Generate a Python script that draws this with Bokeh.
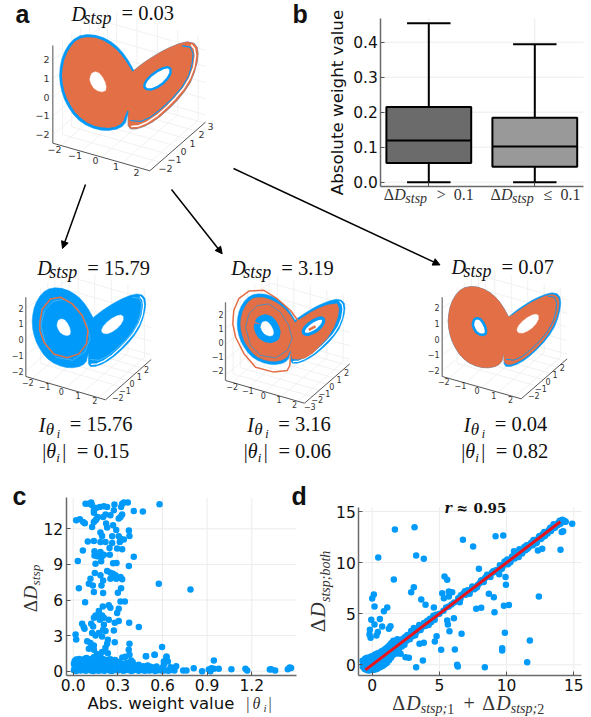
from bokeh.plotting import figure
from bokeh.models import Range1d, LinearAxis, FixedTicker, Arrow, NormalHead
from bokeh.core.properties import value
from bokeh.embed import file_html
from bokeh.resources import INLINE
import math

# ---------- panel b values ----------
b_cats = [1, 2]
b_low = [0.0, 0.0]
b_q1 = [0.055, 0.044]
b_med = [0.119, 0.102]
b_q3 = [0.215, 0.184]
b_high = [0.454, 0.394]
b_colors = ["#6b6b6b", "#999999"]
b_yticks = [0.0, 0.1, 0.2, 0.3, 0.4]

# ---------- panel c values ----------
c_xticks = [0.0, 0.3, 0.6, 0.9, 1.2]
c_yticks = [0, 3, 6, 9, 12]
c_upper_x = [.083,.105,.121,.127,.139,.154,.179,.206,.228,.277,.329,.340,.367,.322,.580,.273,.407,.468,.139,.165,.156,.150,.201,.217,.250,.329,.318,.306,.020,.045,.067,.078,.139,.127,.221,.228,.268,.289,.374,.183,.194,.378,.262,.306,.318,.340,.313,.098,.139,.183,.217,.262,.244,.295,.329,.065,.143,.183,.143,.161,.179,.206,.194,.246,.407,.031,.188,.150,.268,.291,.374,.228,.250,.268,.284,.145,.183,.318,.289,.250,.116,.201,.329,.105,.132,.190,.575,.038,.322,.788,.139,.201,.300]
c_upper_y = [14.12,14.12,14.21,13.98,13.56,13.75,13.84,13.90,13.84,14.04,14.12,14.21,14.21,13.84,14.07,13.56,13.50,13.45,13.36,13.0,12.8,12.72,13.0,13.2,13.14,13.2,13.0,12.86,12.72,12.8,12.58,12.46,12.58,12.15,12.44,12.1,12.3,11.9,11.85,11.68,11.4,11.4,11.37,11.37,11.17,11.09,10.89,10.94,10.97,10.89,10.89,10.80,10.38,10.33,10.27,10.18,10.10,10.04,9.76,9.68,9.76,9.82,9.68,9.82,9.65,9.29,9.26,9.06,9.09,9.12,8.86,8.44,8.30,8.22,8.08,8.27,8.08,7.94,7.79,7.79,7.79,7.65,7.74,7.37,7.23,7.23,7.37,7.0,7.0,6.89,6.67,6.58,6.61]
c_mid_x = [.080,.199,.239,.250,.318,.347,.306,.295,.172,.150,.161,.139,.194,.206,.239,.179,.306,.279,.376,.441,.060,.071,.076,.121,.134,.206,.201,.217,.273,.016,.020,.127,.150,.172,.194,.233,.279,.378,.094,.116,.139,.228,.217,.105,.139,.194,.373,.378,.233,.597,.548,.488,.627,.609,.636]
c_mid_y = [5.82,5.46,5.55,5.35,5.88,5.88,5.26,4.90,5.07,4.70,4.56,4.50,4.70,4.50,4.34,4.34,4.22,4.08,4.08,3.72,4.0,3.72,3.58,4.0,3.77,3.91,3.49,3.38,3.44,3.1,2.68,3.21,3.01,3.21,2.93,2.65,2.45,2.31,2.53,2.37,2.17,2.31,1.97,1.89,1.80,1.61,1.80,1.38,1.52,2.03,1.38,1.27,1.24,.82,.82]
c_tail_x = [.945,.81,.866,.739,.761,.692,.654,.911,.929,.945,.978,.922,1.063,1.157,1.169,1.321,1.33,1.357,1.442,1.455,1.464,.627,.609,.546,.49]
c_tail_y = [.90,.25,0,.06,.06,.42,.34,.14,.25,.2,.2,0,.17,.2,.06,.14,.17,.06,.17,.31,.28,1.18,.56,1.38,1.27]
c_band_x = [.005,.02,.035,.05,.07,.085,.10,.12,.135,.155,.17,.19,.21,.225,.245,.26,.28,.30,.315,.335,.35,.37,.39,.405,.425,.44,.46,.48,.50,.515,.535,.55,.57,.585,.60,.62,.64,.66,.68,
            .01,.03,.045,.065,.08,.10,.115,.13,.15,.17,.185,.205,.22,.24,.255,.275,.29,.31,.33,.345,.365,.38,.40,.42,.435,.455,.475,.49,.51,.53,.545,
            .005,.025,.04,.06,.075,.09,.11,.125,.145,.16,.18,.2,.215,.235,.25,.27,.285,.305,.325,.34,.36,.375,.395,.415,
            .01,.03,.05,.065,.085,.105,.12,.14,.155,.175,.195,.21,.23,.25,.27,.29,
            .08,.09,.14,.19,.25,.33,.35,.28,.39,.40,.16,.18,
            .012,.028,.043,.058,.072,.088,.103,.118,.133,.148,.163,.178,.193,.208,.223,.238,.253,.268,.283,.298,.313,.328,.343,.358,.373,.388,.403,.418,.433,.448,.463,.478,.493,.508,.523,.538,.553,.568,.583,
            .018,.034,.052,.068,.083,.097,.113,.128,.142,.158,.173,.188,.203,.218,.232,.248,.263,.278,.293,.308,.323,.338,.353,.368,.383,.398,
            .015,.037,.055,.078,.095,.108,.122,.138,.152,.168,.183,.198,.212,.228,.243,.258,.273,.288,.302,.318,
            .02,.04,.062,.082,.098,.112,.13,.148,.165,.18,.2,.22,.24,.26,.28,.31,.36,.38,.44,.47,.5,.52,.56,.6]
c_band_y = [.08,.02,.12,.05,.1,.03,.14,.06,.02,.11,.04,.09,.03,.13,.06,.01,.1,.05,.12,.03,.08,.11,.02,.07,.13,.04,.1,.03,.09,.05,.12,.02,.07,.1,.04,.08,.03,.1,.05,
            .36,.3,.41,.34,.28,.39,.33,.42,.3,.36,.27,.4,.32,.38,.29,.35,.41,.28,.37,.32,.26,.4,.33,.29,.37,.3,.25,.34,.28,.31,.26,
            .62,.57,.66,.6,.55,.68,.58,.63,.7,.56,.65,.6,.54,.67,.58,.62,.55,.64,.52,.58,.48,.6,.5,.47,
            .86,.92,.84,.95,.88,.82,.97,.9,.85,.93,.8,.96,.87,.78,.84,.74,
            1.05,1.12,1.2,1.1,1.0,1.15,1.22,.95,.9,.75,1.45,1.3,
            .2,.17,.24,.15,.22,.18,.26,.14,.21,.19,.25,.16,.23,.2,.15,.24,.18,.22,.13,.21,.17,.25,.14,.2,.16,.23,.12,.19,.15,.21,.13,.18,.2,.14,.17,.12,.19,.15,.1,
            .5,.47,.53,.46,.52,.49,.55,.44,.51,.48,.54,.45,.5,.47,.53,.44,.49,.46,.52,.43,.48,.45,.41,.47,.44,.42,
            .76,.72,.78,.74,.8,.71,.77,.73,.79,.75,.7,.78,.72,.76,.68,.74,.66,.7,.64,.62,
            .98,1.02,.96,1.04,1.0,.94,1.06,.98,1.02,.92,1.0,.9,.96,.88,.92,.8,.72,.6,.55,.42,.48,.38,.4,.3]

# ---------- panel d values ----------
d_ticks = [0, 5, 10, 15]
d_off_x = [1.69,3.15,3.27,3.84,.45,1.61,3.1,2.9,3.65,3.97,.12,0,.17,.87,1.12,-.07,.57,.17,-.17,-.2,-.12,.42,.32,.74,1.36,1.24,4.59,5.38,5.58,5.21,5.33,5.7,5.95,5.7,6.52,6.57,6.08,5.58,5.63,5.75,6.65,4.79,4.66,3.84,3.52,3.77,5.13,6.15,3.27,6.32,6.37,8.38,11.53,11.73,9.67,9.67,9.87,9.1,7.74,8.11,9.8,10.17,12.4,9.05,8.68,9.92,9.95,9.45,7.94,6.75,7.51,9.18,9.75,14.01,14.21,14.88,12.33,12.65,2.11,2.73,2.48,1.98,14.1]
d_off_y = [13.24,13.47,10.69,10.37,10.5,8.35,7.6,7.1,6.39,5.87,6.88,6.49,5.71,5.25,5.61,4.4,4.47,3.95,3.42,2.97,2.64,3.2,2.87,3.75,3.78,3.52,5.61,8.64,8.31,7.01,6.52,7.17,7.1,6.68,6.13,6.46,4.56,4.34,3.95,3.29,3.03,2.8,2.28,2.15,2.05,.42,1.47,1.5,-.23,0,-.16,-.23,.26,2.38,1.63,1.4,3.13,5.15,5.48,5.58,5.77,5.84,6.68,6.62,6.95,8.58,7.83,8.87,9.39,12.23,11.57,12.59,12.65,11.25,13.07,13.79,11.18,11.35,1.08,.68,.75,1.4,13.0]
d_blob_x = [-.7,-.68,-.72,-.56,-.54,-.55,-.53,-.4,-.42,-.38,-.41,-.39,-.25,-.27,-.24,-.26,-.23,-.1,-.12,-.09,-.11,-.08,.05,.03,.06,.04,.07,.2,.18,.22,.19,.21,.35,.33,.36,.34,.37,.5,.48,.52,.49,.51,.65,.63,.66,.64,.67,.8,.78,.82,.79,.81,.95,.93,.96,.94,.97,1.1,1.08,1.12,1.09,1.11,1.25,1.23,1.26,1.24,1.27,1.4,1.38,1.42,1.39,1.41,1.55,1.53,1.56,1.54,1.57,1.7,1.68,1.72,1.69,1.85,1.83,1.86,1.84,1.87,2.0,1.98,2.02,2.2,2.18,2.22,2.4,2.38,2.42]
d_blob_y = [-.2,.1,.4,-.4,-.05,.25,.6,-.5,-.2,.1,.4,.7,-.55,-.25,.05,.35,.7,-.5,-.2,.1,.45,.8,-.5,-.15,.2,.5,.85,-.45,-.1,.25,.6,1.0,-.4,-.05,.3,.7,1.1,-.3,.05,.4,.8,1.15,-.2,.15,.5,.9,1.3,-.1,.3,.7,1.1,1.4,.05,.45,.85,1.25,1.55,.2,.6,1.0,1.4,1.7,.45,.85,1.25,1.65,1.9,.7,1.05,1.45,1.85,2.1,.95,1.3,1.7,2.1,2.35,1.2,1.55,1.9,2.3,1.1,1.5,1.85,2.15,2.5,1.65,2.0,2.4,1.8,2.15,2.5,1.95,2.35,2.7]
d_band_x = [2.6,2.8,2.9,3.0,3.1,3.3,3.5,3.6,3.7,3.85,3.95,4.1,4.2,4.3,4.4,4.55,4.65,4.75,5.0,5.3,5.5,5.7,5.9,6.1,6.4,6.6,6.8,6.9,7.0,7.15,7.3,7.4,7.55,7.7,7.85,8.0,8.2,8.4,8.55,8.7,8.9,9.05,9.2,9.4,9.55,9.7,9.85,10.0,10.15,10.3,10.45,10.6,10.55,10.7,10.85,10.95,11.1,11.25,11.4,11.5,11.65,11.8,11.95,12.1,12.25,12.4,12.55,12.7,12.85,13.0,13.15,13.3,13.45,13.6,13.7,13.85,14.0,14.1,14.25,14.4,14.0,13.5,11.2,10.1,10.9,12.0,
            2.55,2.7,3.2,3.4,6.95,7.1,7.25,7.45,7.6,7.8,8.1,8.3,8.5,8.8,9.0,9.3,9.5,9.65,9.9,10.05,10.25,10.4,10.75,11.0,11.15,11.35,11.55,11.75,11.9,12.05,12.2,12.45,12.65,12.8,13.05,13.25,13.4,13.55,13.8,13.95,14.15,14.3]
d_band_y = [2.9,2.5,3.3,2.8,3.6,3.2,3.9,3.4,3.7,4.1,3.8,4.3,3.9,4.5,4.2,4.8,4.4,4.9,5.0,5.3,5.6,5.7,5.9,6.1,6.5,6.8,7.0,7.2,7.1,7.25,7.3,7.45,7.5,7.55,7.8,8.0,8.3,8.5,8.8,8.75,9.0,9.05,9.25,9.3,9.7,9.6,10.1,10.0,10.2,10.1,10.5,10.4,11.1,10.9,10.7,11.3,11.0,11.4,11.2,11.7,11.5,11.9,11.7,12.2,12.0,12.5,12.3,12.8,12.6,13.0,13.2,13.1,13.5,13.4,13.7,13.9,13.8,14.1,14.0,14.0,14.05,13.75,11.1,9.85,10.55,12.2,
            2.35,2.95,2.9,3.55,6.85,7.3,6.95,7.65,7.4,7.6,8.25,8.1,8.65,8.6,9.15,9.1,9.75,9.4,9.85,10.3,10.0,10.6,10.55,11.15,10.9,11.55,11.35,11.75,12.0,12.15,11.9,12.6,12.45,13.0,12.85,13.4,13.3,13.65,13.65,14.1,14.2,14.1]
d_fit_x = [-0.5, 14.0]
d_fit_y = [-0.5, 14.0]

# ---------- attractor panels: labels ----------
D_values = ["0.03", "15.79", "3.19", "0.07"]
I_values = ["15.76", "3.16", "0.04"]
theta_values = ["0.15", "0.06", "0.82"]

# ---------- attractor outline ----------
wing_x = [280,272,262,248,232,212,190,165,140,118,100,85,73,64,59,57,59,64,72,84,98,115,135,158,182,205,228,245,255,259,263,263,263,270,288,310,335,360,385,410,432,450,462,470,473,470,460,440,415,390,365,340,315,295]
wing_y = [150,135,118,98,80,64,52,44,42,46,56,72,92,115,140,165,190,213,237,260,281,299,313,323,329,330,326,318,307,292,278,300,315,325,325,318,305,287,265,240,213,185,155,125,100,80,68,64,70,80,92,107,123,138]
inset_x = [278,268,258,244,228,209,188,164,140,120,103,90,78,69,64,62,64,69,77,89,102,119,138,160,183,205,226,242,251,255,263,263,263,270,288,310,335,360,385,410,432,450,462,470,473,470,460,440,415,390,365,340,315,295]
inset_y = [152,136,120,101,84,69,57,49,47,51,60,75,95,117,141,165,189,212,235,257,277,294,308,318,323,325,321,313,303,290,272,300,315,325,325,318,305,287,265,240,213,185,155,125,100,80,68,64,70,80,92,107,123,138]
third_x = [280,262,240,212,185,160,137,118,103,90,78,72,70,72,78,86,98,114,134,158,182,205,226,240,250,256,263,269,295,320,350,378,405,430,445,449,442,420,398,365,340,315,295]
third_y = [160,130,103,80,66,58,57,61,72,90,115,140,165,190,215,237,258,280,298,310,316,317,313,306,298,285,272,307,309,303,282,252,222,178,135,103,83,85,90,104,118,135,148]
fourth_x = wing_x[:31] + [263,266,275,290,310,335,360,385,408,428,445,457,464,467,464,456,440,415,390,365,340,315,295]
fourth_y = wing_y[:31] + [300,312,318,318,311,298,280,258,234,208,180,152,125,100,84,74,70,76,86,98,113,129,143]
left_eye_x = [150,154,165,176,186,194,197,195,185,172,160,152,148]
left_eye_y = [167,158,154,158,170,186,200,210,214,211,203,190,178]
right_eye_x = [312,318,332,350,368,382,390,390,382,368,350,333,318,312]
right_eye_y = [192,180,165,152,143,140,145,158,173,188,200,207,206,200]
gap_x = [272,295,320,350,380,405,428,448,460,465,462,452]
gap_y = [318,316,305,285,258,232,205,172,140,105,85,73]
strand_x = [270,300,330,362,395,425,445,455,458,450,425]
strand_y = [300,303,290,265,235,200,165,130,100,80,76]
loop2_x = [85,94,124,161,204,240,261,256,228,185,136,100,85,85]
loop2_y = [166,118,82,76,100,142,196,244,280,294,280,238,196,166]
loop3_x = [263,260,250,198,128,83,51,40,44,63,102,160,211,263,295]
loop3_y = [286,334,354,361,341,286,219,164,110,62,31,28,62,110,157]
ring_x = [89,102,134,179,224,256,269,250,205,147,108,89]
ring_y = [178,123,90,83,117,171,225,273,303,293,252,178]
dash3_x = [333,359]
dash3_y = [189,175]

BLUE = "#009AFA"
ORANGE = "#E26F46"
SERIF = "Liberation Serif"
W, H = 591, 717
p = figure(width=W, height=H, x_range=Range1d(0, W), y_range=Range1d(H, 0),
           output_backend="svg", toolbar_location=None, min_border=0,
           outline_line_color=None, x_axis_location=None, y_axis_location=None,
           background_fill_color="white", border_fill_color="white")
p.grid.visible = False


def add_scale(xname, x0v, x0p, x1v, x1p, yname, y0v, y0p, y1v, y1p):
    """Extra ranges: the given values land at the given page pixels."""
    kx = (x1v - x0v) / (x1p - x0p)
    ky = (y1v - y0v) / (y1p - y0p)
    p.extra_x_ranges[xname] = Range1d(x0v + (0 - x0p) * kx, x0v + (W - x0p) * kx)
    p.extra_y_ranges[yname] = Range1d(y0v + (H - y0p) * ky, y0v + (0 - y0p) * ky)
    return (lambda v: x0v + (v - x0p) * kx), (lambda v: y0v + (v - y0p) * ky)


def T(x, y, s, size, font=SERIF, style="normal", angle=0, align="left", base="alphabetic", color="#111111"):
    if base == "alphabetic":
        if angle == 0:
            y -= 0.38 * size
        else:
            x -= 0.38 * size
    p.text(x=[x], y=[y], text=[s], text_font=value(font), text_font_size=f"{size}px",
           text_font_style=style, angle=angle, text_align=align, text_baseline=base, text_color=color)


def axes_2d(xn, yn, fx, fy, left, right, top, bottom, xticks, yticks):
    xl, xr = fx(left), fx(right)
    yb, yt = fy(bottom), fy(top)
    p.segment(x0=xticks, x1=xticks, y0=[yb] * len(xticks), y1=[yt] * len(xticks), x_range_name=xn, y_range_name=yn,
              line_color="#ececec", line_width=1)
    p.segment(x0=[xl] * len(yticks), x1=[xr] * len(yticks), y0=yticks, y1=yticks, x_range_name=xn, y_range_name=yn,
              line_color="#ececec", line_width=1)
    ay = LinearAxis(x_range_name=xn, y_range_name=yn, fixed_location=xl, bounds=(yb, yt), ticker=FixedTicker(ticks=yticks))
    ax = LinearAxis(x_range_name=xn, y_range_name=yn, fixed_location=yb, bounds=(xl, xr), ticker=FixedTicker(ticks=xticks))
    for a in (ax, ay):
        a.axis_line_color = "#6a6a6a"
        a.axis_line_width = 1.5
        a.major_tick_line_color = "#555555"
        a.major_tick_in = 4
        a.major_tick_out = 0
        a.minor_tick_line_color = None
        a.major_label_text_font = "DejaVu Sans"
        a.major_label_text_font_size = "15.5px"
        a.major_label_text_color = "#111111"
        a.major_label_standoff = 3
    return ax, ay


def frame3d(O, X, Y, top, xr, yr, zr, xt, yt, zt, xl0, xl1, yl0, yl1, zl0, zl1, fs, zx):
    def pt(f, g, h):
        sc = 1 - 0.14 * g
        return (O[0] + f * (X[0] - O[0]) + g * (Y[0] - X[0]),
                O[1] + f * (X[1] - O[1]) + g * (Y[1] - X[1]) + h * sc * (top[1] - O[1]))
    frac = lambda t, r: (t - r[0]) / (r[1] - r[0])
    xs0, ys0, xs1, ys1 = [], [], [], []
    def seg(a, b):
        xs0.append(a[0]); ys0.append(a[1]); xs1.append(b[0]); ys1.append(b[1])
    for t in xt:
        f = frac(t, xr)
        seg(pt(f, 0, 0), pt(f, 1, 0))
        seg(pt(f, 1, 0), pt(f, 1, 1))
    for t in yt:
        g = frac(t, yr)
        seg(pt(0, g, 0), pt(1, g, 0))
        seg(pt(0, g, 0), pt(0, g, 1))
    for t in zt:
        h = frac(t, zr)
        seg(pt(0, 0, h), pt(0, 1, h))
        seg(pt(0, 1, h), pt(1, 1, h))
    p.segment(x0=xs0, y0=ys0, x1=xs1, y1=ys1, line_color="#eeeeee", line_width=0.8)
    p.line(x=[O[0], O[0]], y=[O[1], top[1]], line_color="#777777", line_width=1.3)
    p.line(x=[O[0], X[0], Y[0]], y=[O[1], X[1], Y[1]], line_color="#555555", line_width=1)
    fmt = lambda t: str(t).replace("-", "\u2212")
    for i, t in enumerate(xt):
        q = i / (len(xt) - 1)
        T(xl0[0] + q * (xl1[0] - xl0[0]), xl0[1] + q * (xl1[1] - xl0[1]), fmt(t), fs, "DejaVu Sans", align="center", base="middle", color="#333333")
    for i, t in enumerate(yt):
        q = i / (len(yt) - 1)
        T(yl0[0] + q * (yl1[0] - yl0[0]), yl0[1] + q * (yl1[1] - yl0[1]), fmt(t), fs, "DejaVu Sans", align="center", base="middle", color="#333333")
    for i, t in enumerate(zt):
        q = i / (len(zt) - 1)
        T(zx, zl0 + q * (zl1 - zl0), fmt(t), fs, "DejaVu Sans", align="right", base="middle", color="#333333")


def shape_scale(name, px0, px1, py0, py1):
    add_scale(name + "x", 57, px0, 472, px1, name + "y", 42, py0, 330, py1)
    return dict(x_range_name=name + "x", y_range_name=name + "y")


def fill(xs, ys, color, kw):
    p.patch(x=xs, y=ys, fill_color=color, line_color=color, line_width=0.5, **kw)


def stroke(xs, ys, color, width, kw, alpha=1.0):
    p.line(x=xs, y=ys, line_color=color, line_width=width, line_alpha=alpha, line_join="round", **kw)


def eye(xs, ys, kw, rim=None, rim_width=0):
    p.patch(x=xs, y=ys, fill_color="white", line_color=rim if rim else "white", line_width=rim_width if rim else 0.5, **kw)


def head_D(x0, base, val):
    T(x0, base, "D", 20, style="italic")
    T(x0 + 12, base + 3.5, "stsp", 18, style="italic")
    T(x0 + 50, base, "= " + val, 20.5)


def foot(x0, x1, val_i, val_t):
    T(x0, 431.7, "I", 20, style="italic")
    T(x0 + 7, 435, "\u03b8", 17, style="italic")
    T(x0 + 18, 438, "i", 12, style="italic")
    T(x0 + 31, 431.7, "= " + val_i, 20.5)
    T(x1, 458.3, "|", 20)
    T(x1 + 4, 458.3, "\u03b8", 20, style="italic")
    T(x1 + 14, 462, "i", 13, style="italic")
    T(x1 + 20, 458.3, "|", 20)
    T(x1 + 34.6, 458.3, "= " + val_t, 20.5)


# ---------- panel a ----------
frame3d((52.3, 142.7), (149.3, 170.3), (205, 121.7), (52.3, 45), (-2.4, 2.36), (-3.1, 3.1), (-2.45, 2.75),
        [-2, -1, 0, 1, 2], [-2, -1, 0, 1, 2, 3], [-2, -1, 0, 1, 2],
        (54, 149), (136, 171.7), (165, 167.7), (210, 126), 134.3, 59, 9.5, 49)
k = shape_scale("s0", 59, 197.3, 34, 130)
fill(wing_x, wing_y, BLUE, k)
fill(inset_x, inset_y, ORANGE, k)
stroke(inset_x[:31], inset_y[:31], BLUE, 1.6, k)
stroke(gap_x, gap_y, "white", 1.6, k)
stroke(strand_x, strand_y, BLUE, 1.1, k)
eye(left_eye_x, left_eye_y, k)
eye(right_eye_x, right_eye_y, k, BLUE, 2.4)
head_D(71, 20.7, D_values[0])

# ---------- lower left ----------
frame3d((25.3, 376), (105, 399.3), (150.7, 359), (25.3, 296.7), (-2.4, 2.4), (-4.1, 2.35), (-2.34, 2.69),
        [-2, -1, 0, 1, 2], [-2, -1, 0, 1, 2], [-2, -1, 0, 1, 2],
        (27.3, 381.7), (94.3, 400), (117.3, 396.7), (146, 369), 370.7, 307.7, 8, 23)
k = shape_scale("s1", 31.7, 145, 287.3, 367.3)
fill(wing_x, wing_y, BLUE, k)
stroke(gap_x, gap_y, "white", 1.3, k)
stroke(strand_x, strand_y, "white", 0.6, k, 0.5)
stroke(ring_x, ring_y, "white", 0.7, k, 0.35)
eye(left_eye_x, left_eye_y, k)
eye(right_eye_x, right_eye_y, k)
stroke(loop2_x, loop2_y, ORANGE, 1.5, k)
head_D(36.7, 275, D_values[1])
foot(38.3, 41.7, I_values[0], theta_values[0])

# ---------- lower middle ----------
frame3d((225, 380), (304, 402.7), (349.3, 363.3), (225, 301.7), (-2.4, 2.4), (-4.06, 2.25), (-2.34, 2.69),
        [-2, -1, 0, 1, 2], [-3, -2, -1, 0, 1, 2], [-2, -1, 0, 1, 2],
        (231.7, 385.7), (294, 404), (309.3, 406), (346, 372.3), 370, 313.7, 8, 223)
k = shape_scale("s2", 236.7, 344.3, 293.3, 364)
fill(wing_x, wing_y, BLUE, k)
stroke(gap_x, gap_y, "white", 1.2, k)
fill(third_x, third_y, ORANGE, k)
stroke(left_eye_x + left_eye_x[:1], left_eye_y + left_eye_y[:1], BLUE, 14, k)
stroke(ring_x, ring_y, BLUE, 0.9, k, 0.7)
eye(left_eye_x, left_eye_y, k)
eye(right_eye_x, right_eye_y, k, BLUE, 3.2)
stroke(dash3_x, dash3_y, ORANGE, 2.5, k)
stroke(loop3_x, loop3_y, ORANGE, 1.5, k)
head_D(230.7, 275, D_values[2])
foot(246.7, 243.3, I_values[1], theta_values[1])

# ---------- lower right ----------
frame3d((441.7, 376), (520.7, 398.3), (566.7, 358.3), (441.7, 296.7), (-2.4, 2.4), (-4.1, 2.35), (-2.34, 2.69),
        [-2, -1, 0, 1, 2], [-2, -1, 0, 1, 2], [-2, -1, 0, 1, 2],
        (443.3, 380.7), (510, 399.3), (533.3, 395), (561.7, 367.3), 370, 307.3, 8, 439)
k = shape_scale("s3", 447.7, 560, 286, 367.3)
fill(wing_x, wing_y, BLUE, k)
fill(fourth_x, fourth_y, ORANGE, k)
stroke(strand_x, strand_y, BLUE, 0.9, k)
eye(left_eye_x, left_eye_y, k, BLUE, 2.6)
eye(right_eye_x, right_eye_y, k)
head_D(451, 274, D_values[3])
foot(463.3, 460.7, I_values[2], theta_values[2])

# ---------- arrows ----------
for (xa, ya, xb, yb) in [(85, 184, 62, 248), (171, 189, 221.7, 253.3), (233, 168, 439.5, 264.4)]:
    p.add_layout(Arrow(x_start=xa, y_start=ya, x_end=xb, y_end=yb, line_color="black", line_width=1.5,
                       end=NormalHead(size=7, fill_color="black", line_color="black")))

# ---------- panel b ----------
fx, fy = add_scale("bx", 1, 428.3, 2, 534.3, "by", 0.0, 181.7, 0.4, 41.7)
ax, ay = axes_2d("bx", "by", fx, fy, 380.3, 583, 18, 186, b_cats, b_yticks)
ax.major_label_overrides = {c: "" for c in b_cats}
ay.major_label_overrides = {t: f"{t:.1f}" for t in b_yticks}
kb = dict(x_range_name="bx", y_range_name="by")
p.segment(x0=b_cats, x1=b_cats, y0=b_low, y1=b_high, line_color="black", line_width=2, **kb)
p.vbar(x=b_cats, width=0.8, bottom=b_q1, top=b_q3, fill_color=b_colors, line_color="black", line_width=2, **kb)
p.segment(x0=[c - 0.4 for c in b_cats], x1=[c + 0.4 for c in b_cats], y0=b_med, y1=b_med, line_color="black", line_width=2, **kb)
p.segment(x0=[c - 0.205 for c in b_cats], x1=[c + 0.205 for c in b_cats], y0=b_low, y1=b_low, line_color="black", line_width=2, **kb)
p.segment(x0=[c - 0.205 for c in b_cats], x1=[c + 0.205 for c in b_cats], y0=b_high, y1=b_high, line_color="black", line_width=2, **kb)
p.add_layout(ax, "below")
p.add_layout(ay, "left")
T(343, 102, "Absolute weight value", 16.7, "DejaVu Sans", angle=math.pi / 2, align="center", color="#111111")
for x0, sym, val in [(383.3, ">", "0.1"), (490, "\u2264", "0.1")]:
    T(x0, 200, "\u0394", 16, color="#333333")
    T(x0 + 10.5, 200, "D", 16, style="italic", color="#333333")
    T(x0 + 21.5, 203, "stsp", 14, style="italic", color="#333333")
    T(x0 + 53, 200, sym, 16, color="#333333")
    T(x0 + 70, 200, val, 16, color="#333333")

# ---------- panel c ----------
fx, fy = add_scale("cx", 0.0, 72.7, 1.2, 251.3, "cy", 0, 670.7, 12, 528.3)
ax, ay = axes_2d("cx", "cy", fx, fy, 65.7, 296, 497.3, 675.3, c_xticks, c_yticks)
ax.major_label_overrides = {t: f"{t:.1f}" for t in c_xticks}
p.add_layout(ax, "below")
p.add_layout(ay, "left")
kc = dict(x_range_name="cx", y_range_name="cy", marker="circle", size=6.5, fill_color=BLUE, line_color=BLUE, line_width=0)
p.scatter(x=c_band_x, y=c_band_y, **kc)
p.scatter(x=c_tail_x, y=c_tail_y, **kc)
p.scatter(x=c_mid_x, y=c_mid_y, **kc)
p.scatter(x=c_upper_x, y=c_upper_y, **kc)
T(87, 709, "Abs. weight value", 16.5, "DejaVu Sans")
T(245.7, 709, "|", 16, color="#333333")
T(252, 709, "\u03b8", 16, style="italic", color="#333333")
T(263, 712, "i", 11, style="italic", color="#333333")
T(268, 709, "|", 16, color="#333333")
rot = math.pi / 2
T(37, 611.7, "\u0394", 19, angle=rot, color="#333333")
T(37, 599, "D", 19, angle=rot, style="italic", color="#333333")
T(40, 585, "stsp", 13.5, angle=rot, style="italic", color="#333333")

# ---------- panel d ----------
fx, fy = add_scale("dx", 0, 371.7, 15, 573.3, "dy", 0, 664.3, 15, 511)
ax, ay = axes_2d("dx", "dy", fx, fy, 358.3, 581, 506.7, 675.3, d_ticks, d_ticks)
p.add_layout(ax, "below")
p.add_layout(ay, "left")
kd = dict(x_range_name="dx", y_range_name="dy", marker="circle", size=6.5, fill_color=BLUE, line_color=BLUE, line_width=0)
p.scatter(x=d_blob_x, y=d_blob_y, **kd)
p.scatter(x=d_band_x, y=d_band_y, **kd)
p.scatter(x=d_off_x, y=d_off_y, **kd)
p.line(x=d_fit_x, y=d_fit_y, line_color="#e8141c", line_width=3, x_range_name="dx", y_range_name="dy")
T(444, 512.7, "r", 14, "DejaVu Serif", style="bold italic")
T(456, 512.7, "\u2248", 14, "DejaVu Serif", style="bold")
T(473, 512.7, "0.95", 13.5, "DejaVu Serif", style="bold")
T(325, 631.7, "\u0394", 21, angle=rot, color="#333333")
T(325, 617, "D", 21, angle=rot, style="italic", color="#333333")
T(330, 601.5, "stsp;both", 14, angle=rot, style="italic", color="#333333")
for x0, idx in [(391.7, "1"), (481.7, "2")]:
    T(x0, 710, "\u0394", 20, color="#333333")
    T(x0 + 14, 710, "D", 20, style="italic", color="#333333")
    T(x0 + 28.5, 713.5, "stsp;", 14, style="italic", color="#333333")
    T(x0 + 55, 713.5, idx, 14, color="#333333")
T(463, 710, "+", 20, color="#333333")

# ---------- panel letters ----------
for s, x0, y0 in [("a", 15, 23), ("b", 292, 23.3), ("c", 12, 505), ("d", 291, 505)]:
    T(x0, y0, s, 25, "Liberation Sans", style="bold", color="#111111")

open("out.html", "w").write(file_html(p, INLINE))
